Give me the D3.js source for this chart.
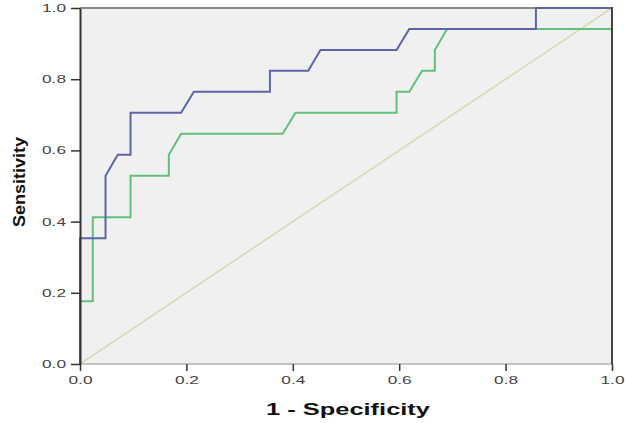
<!DOCTYPE html>
<html>
<head>
<meta charset="utf-8">
<script src="https://cdn.jsdelivr.net/npm/d3@7"></script>
<style>
  body { margin: 0; background: #fff; }
  svg { display: block; font-family: "Liberation Sans", Arial, sans-serif; }
</style>
</head>
<body>
<svg id="chart" width="625" height="423"></svg>
<script>
// ROC curves (1 - specificity, sensitivity)
const blueFpr = [0, 0, 0.048, 0.048, 0.071, 0.095, 0.095, 0.190, 0.214, 0.357, 0.357, 0.429, 0.452, 0.595, 0.619, 0.857, 0.857, 1];
const blueTpr = [0, 0.353, 0.353, 0.529, 0.588, 0.588, 0.706, 0.706, 0.765, 0.765, 0.824, 0.824, 0.882, 0.882, 0.941, 0.941, 1, 1];

const greenFpr = [0, 0, 0.024, 0.024, 0.095, 0.095, 0.167, 0.167, 0.190, 0.381, 0.405, 0.595, 0.595, 0.619, 0.643, 0.667, 0.667, 0.690, 1, 1];
const greenTpr = [0, 0.176, 0.176, 0.412, 0.412, 0.529, 0.529, 0.588, 0.647, 0.647, 0.706, 0.706, 0.765, 0.765, 0.824, 0.824, 0.882, 0.941, 0.941, 1];

// reference diagonal
const refLine = [0, 1];

const ticks = [0, 0.2, 0.4, 0.6, 0.8, 1.0];

var svg = d3.select("#chart");
// note: "top" is taken by window.top, so use plot* names
var plotL = 80, plotR = 612, plotT = 8, plotB = 364;

var x = d3.scaleLinear().domain([0, 1]).range([plotL, plotR]);
var y = d3.scaleLinear().domain([0, 1]).range([plotB, plotT]);

// plot background
svg.append("rect")
  .attr("x", plotL).attr("y", plotT)
  .attr("width", plotR - plotL).attr("height", plotB - plotT)
  .attr("fill", "#f0f0f0");

// frame lines (top grey, bottom light)
svg.append("line").attr("x1", plotL).attr("x2", plotR).attr("y1", plotT).attr("y2", plotT)
  .attr("stroke", "#8a8a8a").attr("stroke-width", 2);
svg.append("line").attr("x1", plotL).attr("x2", plotR).attr("y1", plotB).attr("y2", plotB)
  .attr("stroke", "#c4c4c4").attr("stroke-width", 2);

var line = d3.line()
  .x(function(d) { return x(d[0]); })
  .y(function(d) { return y(d[1]); });

// diagonal
svg.append("path")
  .datum(d3.zip(refLine, refLine))
  .attr("d", line)
  .attr("fill", "none")
  .attr("stroke", "#dcd8b6")
  .attr("stroke-width", 1.6);

// green curve
svg.append("path")
  .datum(d3.zip(greenFpr, greenTpr))
  .attr("d", line)
  .attr("fill", "none")
  .attr("stroke", "#62c079")
  .attr("stroke-width", 2);

// blue curve
svg.append("path")
  .datum(d3.zip(blueFpr, blueTpr))
  .attr("d", line)
  .attr("fill", "none")
  .attr("stroke", "#5d64a8")
  .attr("stroke-width", 2);

// right border sits over the curves
svg.append("line").attr("x1", plotR).attr("x2", plotR).attr("y1", plotT - 1).attr("y2", plotB)
  .attr("stroke", "#444").attr("stroke-width", 2);

// y axis
var yAxis = svg.append("g")
  .attr("transform", "translate(" + plotL + ",0)")
  .call(d3.axisLeft(y).tickValues(ticks).tickFormat(d3.format(".1f"))
    .tickSizeInner(9).tickSizeOuter(0).tickPadding(5));
yAxis.select(".domain").attr("stroke", "#333").attr("stroke-width", 2);
yAxis.selectAll(".tick line").attr("stroke", "#333").attr("stroke-width", 1.5);
yAxis.selectAll("text")
  .attr("font-size", 11).attr("fill", "#444")
  .attr("textLength", 24).attr("lengthAdjust", "spacingAndGlyphs");

// x axis
var xAxis = svg.append("g")
  .attr("transform", "translate(0," + plotB + ")")
  .call(d3.axisBottom(x).tickValues(ticks).tickFormat(d3.format(".1f"))
    .tickSizeInner(7).tickSizeOuter(0).tickPadding(5));
xAxis.select(".domain").remove();
xAxis.selectAll(".tick line").attr("stroke", "#333").attr("stroke-width", 1.5);
xAxis.selectAll("text")
  .attr("font-size", 11).attr("fill", "#444")
  .attr("textLength", 24).attr("lengthAdjust", "spacingAndGlyphs");

// axis titles
svg.append("text")
  .attr("x", 348).attr("y", 415)
  .attr("text-anchor", "middle")
  .attr("font-size", 17).attr("font-weight", "bold").attr("fill", "#111")
  .attr("textLength", 164).attr("lengthAdjust", "spacingAndGlyphs")
  .text("1 - Specificity");

svg.append("text")
  .attr("transform", "translate(25,182) rotate(-90)")
  .attr("text-anchor", "middle")
  .attr("font-size", 16).attr("font-weight", "bold").attr("fill", "#111")
  .attr("textLength", 90).attr("lengthAdjust", "spacingAndGlyphs")
  .text("Sensitivity");
</script>
</body>
</html>
